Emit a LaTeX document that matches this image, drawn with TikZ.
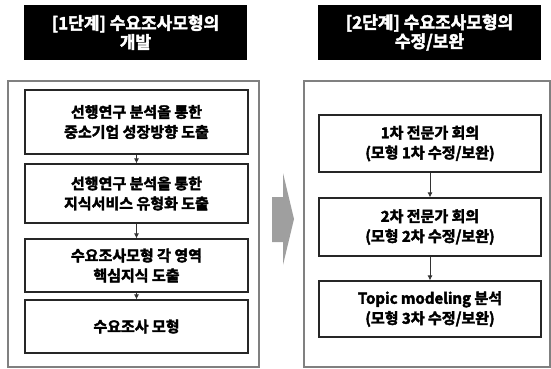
\documentclass[tikz,border=0pt]{standalone}
\usepackage{fontspec}
\setmainfont{Noto Sans CJK KR}
\newfontfamily\kbold{Noto Sans CJK KR Bold}[FakeBold=2.5]
\usetikzlibrary{arrows.meta}

\begin{document}
\begin{tikzpicture}[x={(1pt,0pt)},y={(0pt,-1pt)},
  headbox/.style={fill=black, text=white, minimum width=223pt, minimum height=55pt,
    inner sep=0pt, align=center, font=\kbold\fontsize{17}{19}\selectfont},
  stepbox/.style={draw=black!85, line width=1.2pt, minimum width=223pt, inner sep=0pt,
    align=center, font=\kbold\fontsize{15}{20}\selectfont},
  link/.style={-{Latex[length=5pt,width=5pt]}, thick, black!80}]

\useasboundingbox (0,0) rectangle (551,369);

% outer frames
\draw[gray, line width=1.4pt] (8,81) rectangle (259,367);
\draw[gray, line width=1.4pt] (304,81) rectangle (550,367);

\node[headbox] (head1) at (135.5,32.5) {[1단계] 수요조사모형의\\개발};
\node[headbox] (head2) at (429.5,32.5) {[2단계] 수요조사모형의\\수정/보완};

% step 1
\node[stepbox, minimum height=64pt] (dev1) at (136.5,122) {선행연구 분석을 통한\\중소기업 성장방향 도출};
\node[stepbox, minimum height=59pt] (dev2) at (136.5,193.5) {선행연구 분석을 통한\\지식서비스 유형화 도출};
\node[stepbox, minimum height=53pt] (dev3) at (136.5,265.5) {수요조사모형 각 영역\\핵심지식 도출};
\node[stepbox, minimum height=53pt] (dev4) at (136.5,326.5) {수요조사 모형};

\draw[link] (dev1) -- (dev2);
\draw[link] (dev2) -- (dev3);
\draw[link] (dev3) -- (dev4);

% step 2
\node[stepbox, minimum width=222pt, minimum height=57pt] (rev1) at (430,143.5) {1차 전문가 회의\\(모형 1차 수정/보완)};
\node[stepbox, minimum width=222pt, minimum height=58pt] (rev2) at (430,227) {2차 전문가 회의\\(모형 2차 수정/보완)};
\node[stepbox, minimum width=222pt, minimum height=56pt] (rev3) at (430,309) {Topic modeling 분석\\(모형 3차 수정/보완)};

\draw[link] (rev1) -- (rev2);
\draw[link] (rev2) -- (rev3);

% big arrow between stages
\fill[gray!75] (272,197) -- (283,197) -- (283,173) -- (294,219) -- (283,265) -- (283,242) -- (272,242) -- cycle;

\end{tikzpicture}
\end{document}
